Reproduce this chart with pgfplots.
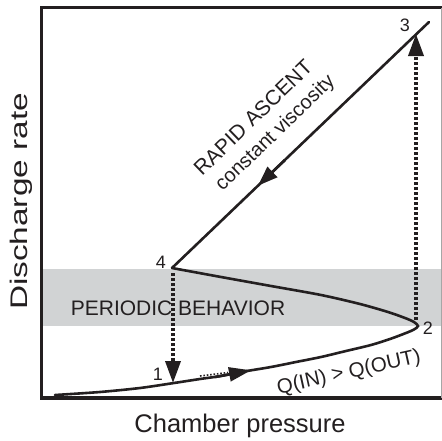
\documentclass[border=0pt]{standalone}
\usepackage{fontspec}
\setmainfont{Liberation Sans}
\usepackage{pgfplots}
\pgfplotsset{compat=1.18}
\usetikzlibrary{arrows.meta}
\definecolor{band}{HTML}{D1D3D4}
\definecolor{ink}{HTML}{231F20}
\begin{document}
\begin{tikzpicture}
\begin{axis}[
  scale only axis, width=399pt, height=390pt,
  xmin=42, xmax=441, ymin=42, ymax=432,
  axis line style={draw=none}, xtick=\empty, ytick=\empty,
  clip=false,
]
% shaded band (periodic behaviour)
\addplot[fill=band, draw=none] coordinates {(42,114) (441,114) (441,171) (42,171)} -- cycle;
% frame
\draw[ink, line width=3pt, line cap=rect] (rel axis cs:0,0) -- (rel axis cs:0,1) -- (rel axis cs:1,1);
\draw[ink, line width=3.4pt, line cap=rect] (rel axis cs:0,0) -- (rel axis cs:1,0);
\draw[black!35, line width=0.8pt] (rel axis cs:1,0) -- (rel axis cs:1,1);
% S-shaped curve
\addplot[ink, line width=2.6pt, smooth, tension=0.5, line cap=round] coordinates {
(55,45) (100,48) (140,52) (174,57) (200,61) (221,64) (241,68) (271,73) (296,78)
(321,83) (346,89) (371,95) (390,101) (406,107) (414,110.5) (418,114) (414,118)
(405,122) (388,128) (360,136) (321,145) (271,154) (221,163) (172,172)
};
% rapid ascent line
\addplot[ink, line width=2.6pt, line cap=round] coordinates {(172,172) (429,418)};
% arrow on ascent line
\addplot[ink, line width=2.6pt, -{Triangle[length=20pt,width=14pt]}] coordinates {(285,280) (258,254.3)};
% arrow on lower branch
\addplot[ink, line width=2.6pt, -{Triangle[length=22pt,width=14pt]}] coordinates {(215,63) (251,69.7)};
\addplot[ink, line width=1.6pt, dash pattern=on 1.6pt off 1.8pt] coordinates {(200,64) (228,67.5)};
% dotted vertical arrows
\addplot[ink, line width=3.6pt, dash pattern=on 3pt off 2pt, -{Triangle[length=22pt,width=15pt]}] coordinates {(173,167) (173,57)};
\addplot[ink, line width=3.6pt, dash pattern=on 3pt off 2pt, -{Triangle[length=22pt,width=15pt]}] coordinates {(416,120) (416,406)};
% numbers
\node[text=ink, font=\fontsize{18}{20}\selectfont] at (axis cs:405,415) {3};
\node[text=ink, font=\fontsize{18}{20}\selectfont] at (axis cs:161,178) {4};
\node[text=ink, font=\fontsize{18}{20}\selectfont] at (axis cs:158,66) {1};
\node[text=ink, font=\fontsize{18}{20}\selectfont] at (axis cs:428,112) {2};
% texts
\node[text=ink, font=\fontsize{21}{25}\selectfont, rotate=44] at (axis cs:253,322.5) {RAPID ASCENT};
\node[text=ink, font=\fontsize{20}{24}\selectfont, rotate=44] at (axis cs:275.5,306.5) {constant viscosity};
\node[text=ink, font=\fontsize{21}{25}\selectfont] at (axis cs:178,132) {PERIODIC BEHAVIOR};
\node[text=ink, font=\fontsize{20.5}{24}\selectfont, rotate=12.5] at (axis cs:349,67) {Q(IN) > Q(OUT)};
% axis labels
\node[text=ink, font=\fontsize{25.5}{30}\selectfont] at (axis cs:240,14) {Chamber pressure};
\node[text=ink, font=\fontsize{24}{28}\selectfont, rotate=90] at (axis cs:21,238.5) {\scalebox{1.39}[1]{Discharge rate}};
\end{axis}
\pgfresetboundingbox
\path[use as bounding box] ([xshift=-42pt,yshift=-42pt]current axis.south west) rectangle ([xshift=1pt,yshift=8pt]current axis.north east);
\end{tikzpicture}
\end{document}
